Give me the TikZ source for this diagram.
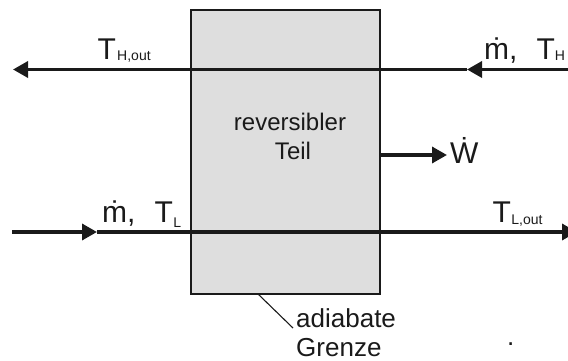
\documentclass[tikz,border=0pt]{standalone}
\usepackage{fontspec}
\setmainfont{Liberation Sans}
\usetikzlibrary{arrows.meta}
\definecolor{boxfill}{HTML}{DEDEDE}
\definecolor{ink}{HTML}{1A1A1A}
\tikzset{
  sysbox/.style={draw=ink, line width=2pt, fill=boxfill, inner sep=0pt, anchor=north west},
  flow/.style={draw=ink, line width=3.4pt, -{Triangle[length=15pt,width=16pt]}},
  leader/.style={draw=ink, line width=1.1pt},
  biglbl/.style={inner sep=0pt, anchor=base west, text=ink, font=\fontsize{30}{36}\selectfont},
  midlbl/.style={inner sep=0pt, anchor=base, text=ink, font=\fontsize{24}{29}\selectfont},
  notelbl/.style={inner sep=0pt, anchor=base west, text=ink, font=\fontsize{26}{30}\selectfont}
}
\newcommand{\subtxt}[2]{\raisebox{#1}{\fontsize{14}{14}\selectfont #2}}
\begin{document}
\begin{tikzpicture}[x=1pt,y=-1pt]
\useasboundingbox (0,0) rectangle (568,361);
\clip (0,0) rectangle (568,361);
% system box
\node (box) [sysbox, minimum width=189pt, minimum height=284pt] at (190,9) {};
\node (rev) [midlbl] at (290,130) {reversibler};
\node (teil) [midlbl] at (293,159) {Teil};
% top stream (hot)
\coordinate (tR) at (570,69.5);
\coordinate (tM) at (467,69.5);
\coordinate (tL) at (13,69.5);
\draw[flow] (tR) -- (tM);
\draw[flow] (tM) -- (tL);
% bottom stream (cold)
\coordinate (bL) at (12,232);
\coordinate (bM) at (97,232);
\coordinate (bR) at (577,232);
\draw[flow] (bL) -- (bM);
\draw[flow] (bM) -- (bR);
% work
\coordinate (wtip) at (447,155);
\draw[flow] (box.east |- wtip) -- (wtip);
% labels
\node (thout) [biglbl] at (97.4,60) {T\kern1.3pt\subtxt{-1pt}{H,out}};
\node (mh) [biglbl] at (484,60) {\.{m},};
\node (th) [biglbl] at (536.4,60) {T\subtxt{-1pt}{H}};
\node (ml) [biglbl] at (102,222) {\.{m},};
\node (tl) [biglbl] at (154.4,222) {T\kern0.5pt\subtxt{-5pt}{L}};
\node (tlout) [biglbl] at (492.4,222) {T\kern0.5pt\subtxt{-2pt}{L,out}};
\node (wdot) [biglbl] at (450,163) {\.{W}};
% adiabatic boundary note
\coordinate (ls) at (258,294);
\coordinate (le) at (293,328);
\draw[leader] (ls) -- (le);
\node (adia) [notelbl] at (296,327) {adiabate};
\node (grenze) [notelbl] at (296,356.5) {Grenze};
\node (pt) [notelbl] at (507,345) {.};
\end{tikzpicture}
\end{document}
